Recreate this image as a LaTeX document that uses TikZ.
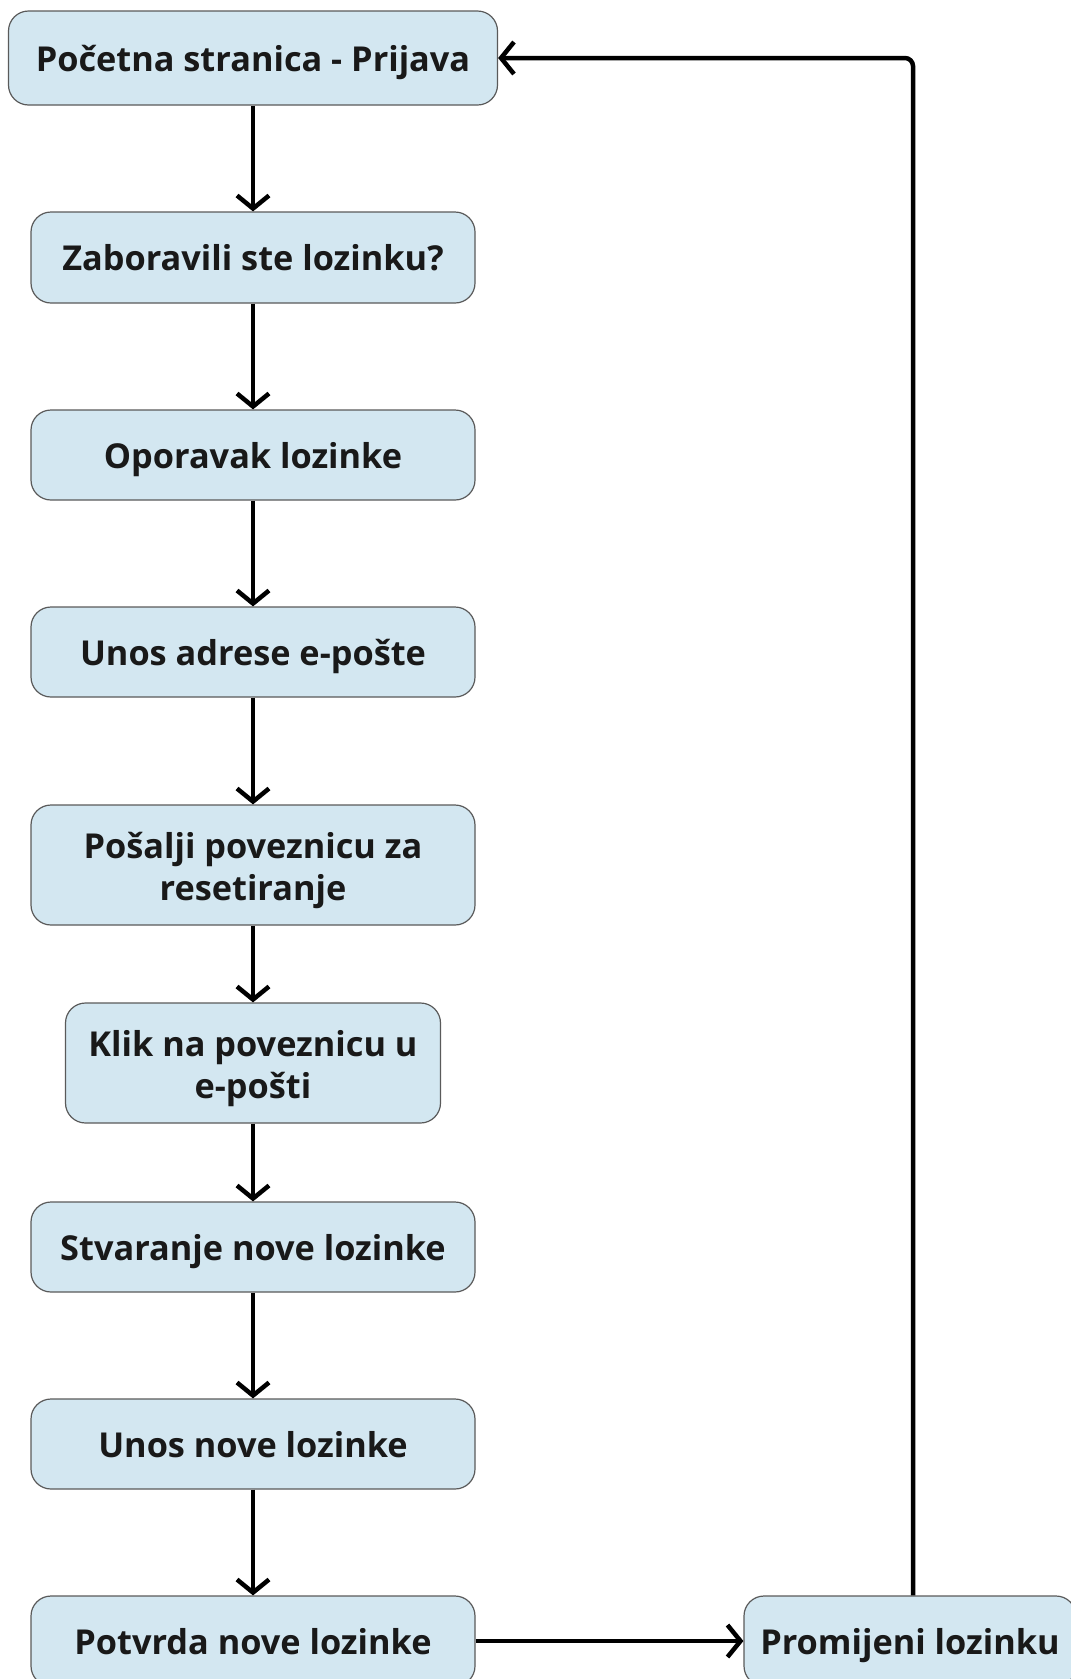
\documentclass[tikz,border=0pt]{standalone}
\usepackage{fontspec}
\setmainfont{Open Sans}
\usetikzlibrary{arrows.meta,calc}
\definecolor{boxfill}{HTML}{D3E7F1}
\definecolor{boxline}{HTML}{5A5A5A}
\tikzset{
  box/.style={draw=boxline, line width=1.2pt, fill=boxfill, rounded corners=20pt,
    inner sep=0pt, align=center, font=\fontsize{34.3}{42}\selectfont\bfseries, text=black!90},
  one/.style={text height=32pt, text depth=6pt},
  two/.style={text height=78pt, text depth=8pt},
  flow/.style={line width=4.5pt, -{Straight Barb[length=13pt,width=32pt,line width=4.5pt]}},
}
\begin{document}
\begin{tikzpicture}[x=1pt,y=-1pt]
\useasboundingbox (0,0) rectangle (1071,1679);
\node[box, one, minimum width=489pt, minimum height=94pt] (b1) at (253,58) {Početna stranica - Prijava};
\node[box, one, minimum width=444pt, minimum height=91pt] (b2) at (253,257.5) {Zaboravili ste lozinku?};
\node[box, one, minimum width=444pt, minimum height=90pt] (b3) at (253,455) {Oporavak lozinke};
\node[box, one, minimum width=444pt, minimum height=90pt] (b4) at (253,652) {Unos adrese e-pošte};
\node[box, two, minimum width=444pt, minimum height=120pt] (b5) at (253,865) {Pošalji poveznicu za\\resetiranje};
\node[box, two, minimum width=375pt, minimum height=120pt] (b6) at (253,1063) {Klik na poveznicu u\\e-pošti};
\node[box, one, minimum width=444pt, minimum height=90pt] (b7) at (253,1247) {Stvaranje nove lozinke};
\node[box, one, minimum width=444pt, minimum height=90pt] (b8) at (253,1444) {Unos nove lozinke};
\node[box, one, minimum width=444pt, minimum height=90pt] (b9) at (253,1641) {Potvrda nove lozinke};
\node[box, one, minimum width=332pt, minimum height=90pt] (b10) at (910,1641) {Promijeni lozinku};
\foreach \a/\b in {b1/b2,b2/b3,b3/b4,b4/b5,b5/b6,b6/b7,b7/b8,b8/b9}{
  \draw[flow] (\a.south) -- (\b.north);
}
\draw[flow] (b9.east) -- (b10.west);
\draw[flow, rounded corners=8pt] ($(b10.north)+(3,0)$) |- (b1.east);
\end{tikzpicture}
\end{document}
